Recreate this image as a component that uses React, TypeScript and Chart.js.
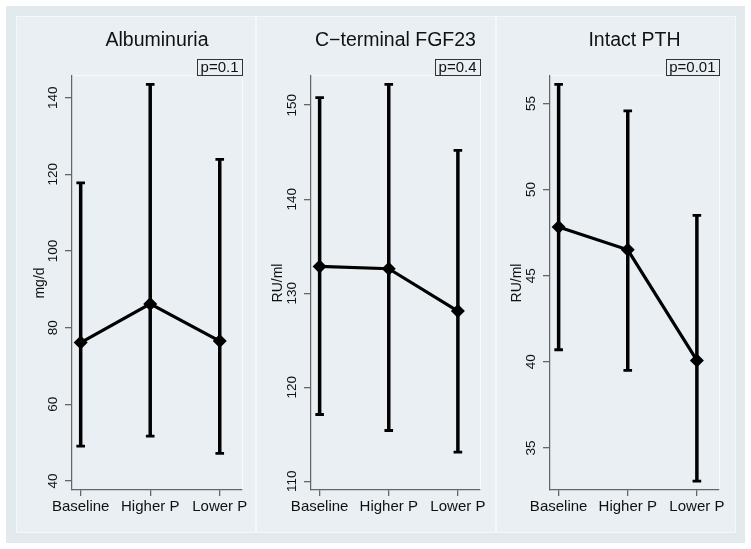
import React, { useEffect, useRef } from "react";
import { Chart, registerables } from "chart.js";

Chart.register(...registerables);

// ---- data ----
const categories = ["Baseline", "Higher P", "Lower P"];
const categoryPositions = [1, 2, 3];

const albuminuriaMean = [76.1, 86.2, 76.5];
const albuminuriaLow = [49.1, 51.7, 47.2];
const albuminuriaHigh = [117.8, 143.5, 123.9];
const albuminuriaTicks = [40, 60, 80, 100, 120, 140];

const fgf23Mean = [132.85, 132.6, 128.1];
const fgf23Low = [117.1, 115.4, 113.1];
const fgf23High = [150.8, 152.2, 145.2];
const fgf23Ticks = [110, 120, 130, 140, 150];

const pthMean = [47.83, 46.5, 40.08];
const pthLow = [40.7, 39.5, 33.08];
const pthHigh = [56.1, 54.57, 48.5];
const pthTicks = [35, 40, 45, 50, 55];

const panelTitles = ["Albuminuria", "C\u2212terminal FGF23", "Intact PTH"];
const pValueLabels = ["p=0.1", "p=0.4", "p=0.01"];
const yAxisTitles = ["mg/d", "RU/ml", "RU/ml"];

const FONT = '"Liberation Sans", Arial, Helvetica, sans-serif';
const OUTER_BG = "#e3eaed";
const PANEL_BG = "#e9eff2";
const EDGE = "#f5f8f9";

type PanelCfg = {
  title: string;
  p: string;
  yTitle: string;
  mean: number[];
  low: number[];
  high: number[];
  ticks: number[];
  yMin: number;
  yMax: number;
  left: number;
  axisWidth: number;
  padRight: number;
  tickPad: number;
  titlePad: number;
};

const CANVAS_W = 240;
const CANVAS_H = 517;

const panels: PanelCfg[] = [
  {
    title: panelTitles[0], p: pValueLabels[0], yTitle: yAxisTitles[0],
    mean: albuminuriaMean, low: albuminuriaLow, high: albuminuriaHigh, ticks: albuminuriaTicks,
    yMin: 37.65, yMax: 145.66, left: 16, axisWidth: 56, padRight: 14, tickPad: 0.8, titlePad: 15.6,
  },
  {
    title: panelTitles[1], p: pValueLabels[1], yTitle: yAxisTitles[1],
    mean: fgf23Mean, low: fgf23Low, high: fgf23High, ticks: fgf23Ticks,
    yMin: 109.07, yMax: 153.1, left: 256, axisWidth: 55, padRight: 16, tickPad: 0, titlePad: 13.6,
  },
  {
    title: panelTitles[2], p: pValueLabels[2], yTitle: yAxisTitles[2],
    mean: pthMean, low: pthLow, high: pthHigh, ticks: pthTicks,
    yMin: 32.56, yMax: 56.59, left: 496, axisWidth: 54, padRight: 17, tickPad: 3.8, titlePad: 12.3,
  },
];

function Panel({ cfg }: { cfg: PanelCfg }) {
  const ref = useRef<HTMLCanvasElement>(null);
  useEffect(() => {
    const errorBars = {
      id: "errorBars",
      beforeDatasetsDraw(chart: any) {
        const { ctx, scales } = chart;
        const x = scales.x;
        const y = scales.y;
        ctx.save();
        ctx.strokeStyle = "#000";
        categoryPositions.forEach((pos, i) => {
          const px = x.getPixelForValue(pos);
          const yl = y.getPixelForValue(cfg.low[i]);
          const yh = y.getPixelForValue(cfg.high[i]);
          ctx.lineWidth = 3.5;
          ctx.beginPath();
          ctx.moveTo(px, yl);
          ctx.lineTo(px, yh);
          ctx.stroke();
          ctx.lineWidth = 2.8;
          ctx.beginPath();
          ctx.moveTo(px - 4.3, yl);
          ctx.lineTo(px + 4.3, yl);
          ctx.moveTo(px - 4.3, yh);
          ctx.lineTo(px + 4.3, yh);
          ctx.stroke();
        });
        ctx.restore();
      },
    };
    const panelText = {
      id: "panelText",
      beforeDraw(chart: any) {
        const { ctx, chartArea } = chart;
        ctx.save();
        ctx.strokeStyle = "rgba(255,255,255,0.7)";
        ctx.lineWidth = 1;
        ctx.strokeRect(chartArea.left + 0.5, chartArea.top - 0.5, chartArea.right - chartArea.left, chartArea.bottom - chartArea.top);
        ctx.restore();
      },
      afterDraw(chart: any) {
        const { ctx, chartArea } = chart;
        ctx.save();
        ctx.fillStyle = "#111";
        ctx.font = `19.5px ${FONT}`;
        ctx.textAlign = "center";
        ctx.textBaseline = "middle";
        ctx.fillText(cfg.title, (chartArea.left + chartArea.right) / 2, 24.5);
        ctx.font = `15px ${FONT}`;
        const w = ctx.measureText(cfg.p).width;
        const bw = w + 7;
        const bx = chartArea.right - bw;
        const by = 43.3;
        const bh = 16;
        ctx.strokeStyle = "#333";
        ctx.lineWidth = 1;
        ctx.strokeRect(Math.round(bx) + 0.5, Math.round(by) + 0.5, Math.round(bw), bh);
        ctx.fillText(cfg.p, bx + bw / 2, by + bh / 2 + 0.5);
        ctx.restore();
      },
    };
    const chart = new Chart(ref.current as HTMLCanvasElement, {
      type: "line",
      data: {
        datasets: [
          {
            data: categoryPositions.map((x, i) => ({ x, y: cfg.mean[i] })),
            borderColor: "#000",
            borderWidth: 3.2,
            pointStyle: "rectRot",
            pointRadius: 7,
            pointBackgroundColor: "#000",
            pointBorderColor: "#000",
            pointBorderWidth: 0,
            tension: 0,
            fill: false,
          },
        ],
      },
      options: {
        animation: false,
        responsive: false,
        maintainAspectRatio: false,
        devicePixelRatio: 1,
        layout: { padding: { top: 60, right: cfg.padRight, left: 0, bottom: 0 } },
        plugins: {
          legend: { display: false },
          tooltip: { enabled: false },
          title: { display: false },
        },
        scales: {
          x: {
            type: "linear",
            min: 0.875,
            max: 3.32,
            afterBuildTicks: (s: any) => {
              s.ticks = categoryPositions.map((v) => ({ value: v }));
            },
            afterFit: (s: any) => {
              s.height = 43;
              s.paddingLeft = 0;
              s.paddingRight = 0;
            },
            ticks: {
              callback: (_v: any, i: number) => categories[i],
              font: { family: FONT, size: 15 },
              color: "#111",
              padding: 2,
              maxRotation: 0,
              minRotation: 0,
              autoSkip: false,
            },
            grid: {
              drawOnChartArea: false,
              drawTicks: true,
              tickLength: 6,
              tickColor: "#666",
              lineWidth: 1.3,
            },
            border: { display: true, color: "#666", width: 1.3 },
          },
          y: {
            type: "linear",
            min: cfg.yMin,
            max: cfg.yMax,
            afterBuildTicks: (s: any) => {
              s.ticks = cfg.ticks.map((v) => ({ value: v }));
            },
            afterFit: (s: any) => {
              s.width = cfg.axisWidth;
              s.paddingTop = 0;
              s.paddingBottom = 0;
            },
            ticks: {
              callback: (v: any) => String(v),
              font: { family: FONT, size: 13.5 },
              color: "#111",
              minRotation: 90,
              maxRotation: 90,
              crossAlign: "center",
              padding: cfg.tickPad,
              autoSkip: false,
            },
            title: {
              display: true,
              text: cfg.yTitle,
              font: { family: FONT, size: 14 },
              color: "#111",
              padding: { top: cfg.titlePad, bottom: 0 },
            },
            grid: {
              drawOnChartArea: false,
              drawTicks: true,
              tickLength: 7,
              tickColor: "#666",
              lineWidth: 1.3,
            },
            border: { display: true, color: "#666", width: 1.3 },
          },
        },
      } as any,
      plugins: [errorBars, panelText],
    });
    return () => chart.destroy();
  }, [cfg]);
  return (
    <canvas
      ref={ref}
      width={CANVAS_W}
      height={CANVAS_H}
      style={{ position: "absolute", left: cfg.left, top: 16, width: CANVAS_W, height: CANVAS_H }}
    />
  );
}

export default function App() {
  return (
    <div style={{ position: "absolute", left: 0, top: 0, width: 751, height: 549, background: "#fff", overflow: "hidden" }}>
      <div style={{ position: "absolute", left: 6, top: 6, width: 739, height: 537, background: OUTER_BG }} />
      {panels.map((cfg, i) => (
        <div
          key={"bg" + i}
          style={{
            position: "absolute", left: cfg.left, top: 16, width: CANVAS_W, height: CANVAS_H,
            background: PANEL_BG, border: `1px solid ${EDGE}`, boxSizing: "border-box",
          }}
        />
      ))}
      {panels.map((cfg, i) => (
        <Panel key={i} cfg={cfg} />
      ))}
    </div>
  );
}
